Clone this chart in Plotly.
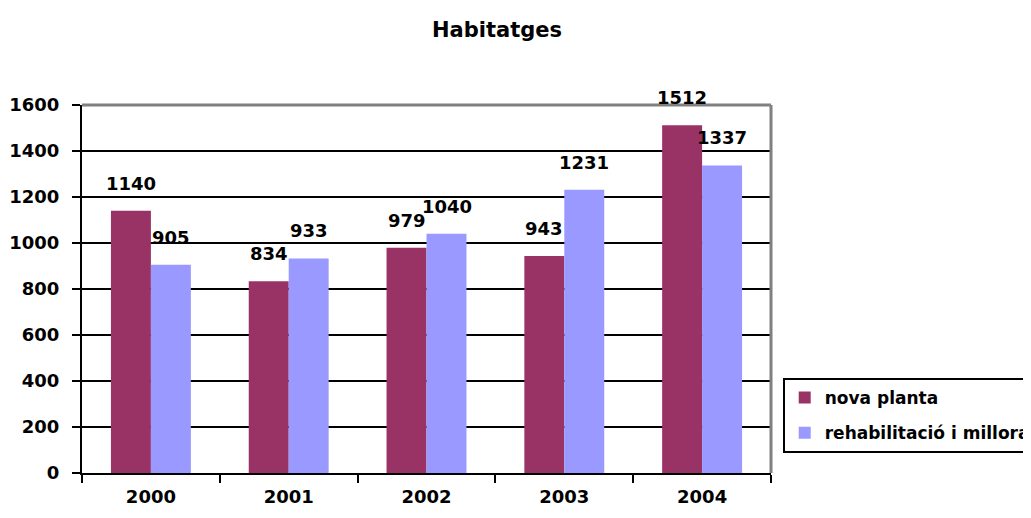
import plotly.graph_objects as go

years = ['2000', '2001', '2002', '2003', '2004']
nova_planta = [1140, 834, 979, 943, 1512]
rehabilitacio = [905, 933, 1040, 1231, 1337]

FONT = 'DejaVu Sans, Arial, sans-serif'

fig = go.Figure()
fig.add_trace(go.Bar(x=years, y=nova_planta, name='nova planta', legendgroup='a',
                     marker=dict(color='#993366', line=dict(width=0))))
fig.add_trace(go.Bar(x=years, y=rehabilitacio, name='rehabilitació i millora', legendgroup='b',
                     marker=dict(color='#9999FF', line=dict(width=0))))

# value labels above each bar (x given as category index)
for i, v in enumerate(nova_planta):
    fig.add_annotation(x=i, y=v, text='<b>%d</b>' % v, showarrow=False,
                       xshift=-20, yanchor='bottom', yshift=15,
                       font=dict(size=18, color='black', family=FONT))
for i, v in enumerate(rehabilitacio):
    fig.add_annotation(x=i, y=v, text='<b>%d</b>' % v, showarrow=False,
                       xshift=20, yanchor='bottom', yshift=15,
                       font=dict(size=18, color='black', family=FONT))

fig.add_annotation(x=0.602, y=1.204, xref='paper', yref='paper', text='<b>Habitatges</b>',
                   showarrow=False, yanchor='middle',
                   font=dict(size=21, color='black', family=FONT))

# grey plot-area border on top and right
fig.add_shape(type='line', xref='paper', yref='paper', x0=0, x1=1, y0=1, y1=1,
              line=dict(color='#808080', width=3))
fig.add_shape(type='line', xref='paper', yref='paper', x0=1, x1=1, y0=0, y1=1,
              line=dict(color='#808080', width=3))

# page body has an 8px margin, so the figure is drawn 8px smaller
fig.update_layout(
    width=1023, height=510,
    margin=dict(l=74, r=260, t=97, b=45, autoexpand=False),
    paper_bgcolor='white', plot_bgcolor='white',
    barmode='group', bargap=0.42, bargroupgap=0,
    font=dict(family=FONT, color='black'),
    legend=dict(x=1.017, y=0.258, xanchor='left', yanchor='top',
                bordercolor='black', borderwidth=2, bgcolor='white',
                font=dict(size=17, family=FONT, color='black', weight='bold'),
                traceorder='grouped', tracegroupgap=10,
                itemwidth=30),
    xaxis=dict(type='category', range=[-0.5, 4.5], showline=True, linecolor='black', linewidth=2,
               ticks='outside', tickson='boundaries', ticklen=8, tickwidth=2,
               tickcolor='black', ticklabelstandoff=6, automargin=False,
               tickfont=dict(size=18, family=FONT, color='black', weight='bold')),
    yaxis=dict(range=[0, 1600], dtick=200, showline=True, linecolor='black',
               linewidth=2, ticks='outside', ticklen=8, tickwidth=2, tickcolor='black',
               ticklabelstandoff=9, automargin=False,
               showgrid=True, gridcolor='black', gridwidth=2, zeroline=False,
               tickfont=dict(size=18, family=FONT, color='black', weight='bold')),
)

fig.write_html("out.html")
